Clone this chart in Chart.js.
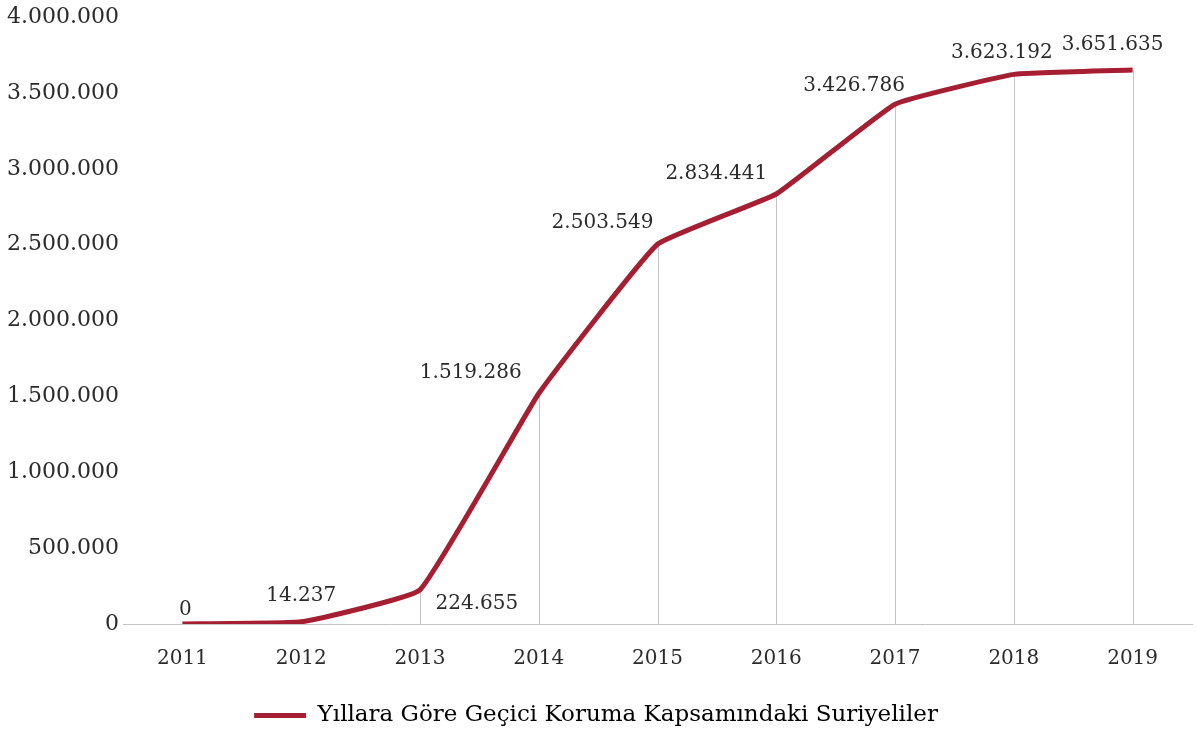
<!DOCTYPE html>
<html>
<head>
<meta charset="utf-8">
<script src="https://cdn.jsdelivr.net/npm/chart.js@4"></script>
<style>
  html, body { margin: 0; padding: 0; background: #fff; }
  #wrap { width: 1197px; height: 730px; }
</style>
</head>
<body>
<div id="wrap"><canvas id="refugeeChart" width="1197" height="730"></canvas></div>
<script>
// ---- data ----
const years = ['2011', '2012', '2013', '2014', '2015', '2016', '2017', '2018', '2019'];
const syrians = [0, 14237, 224655, 1519286, 2503549, 2834441, 3426786, 3623192, 3651635];
const seriesName = 'Yıllara Göre Geçici Koruma Kapsamındaki Suriyeliler';
const yTicks = [0, 500000, 1000000, 1500000, 2000000, 2500000, 3000000, 3500000, 4000000];

// label offsets from each point (px)
const labelOffsets = [[3, -14], [0, -26], [57, 14], [-68, -21], [-55, -21], [-60, -20], [-41, -18], [-12, -22], [-20, -25]];

const lineColor = '#a61e31';
const textColor = '#2b2b2b';
const fontFamily = '"DejaVu Serif", serif';

function fmt(n) {
    return String(n).replace(/\B(?=(\d{3})+(?!\d))/g, '.');
}

// drop lines from each point down to the axis + value labels
const dropLines = {
    id: 'dropLines',
    beforeDatasetsDraw(chart) {
        const ctx = chart.ctx;
        const meta = chart.getDatasetMeta(0);
        const bottom = chart.chartArea.bottom;
        ctx.save();
        ctx.strokeStyle = '#c4c4c4';
        ctx.lineWidth = 1;
        meta.data.forEach(p => {
            const x = Math.round(p.x) + 0.5;
            ctx.beginPath();
            ctx.moveTo(x, bottom);
            ctx.lineTo(x, p.y);
            ctx.stroke();
        });
        ctx.restore();
    },
    afterDatasetsDraw(chart) {
        const ctx = chart.ctx;
        const meta = chart.getDatasetMeta(0);
        ctx.save();
        ctx.font = '20px ' + fontFamily;
        ctx.fillStyle = textColor;
        ctx.textAlign = 'center';
        ctx.textBaseline = 'middle';
        meta.data.forEach((p, i) => {
            const off = labelOffsets[i];
            ctx.fillText(fmt(syrians[i]), p.x + off[0], p.y + off[1]);
        });
        ctx.restore();
    }
};

Chart.defaults.font.family = fontFamily;
Chart.defaults.color = textColor;

new Chart(document.getElementById('refugeeChart'), {
    type: 'line',
    data: {
        labels: years,
        datasets: [{
            label: seriesName,
            data: syrians,
            borderColor: lineColor,
            backgroundColor: lineColor,
            borderWidth: 5,
            pointRadius: 0,
            tension: 0.1,
            fill: false
        }]
    },
    options: {
        responsive: false,
        animation: false,
        layout: { padding: { top: 17, right: 5, bottom: -7, left: 0 } },
        plugins: {
            tooltip: { enabled: false },
            legend: {
                position: 'bottom',
                labels: {
                    font: { size: 23 },
                    boxWidth: 52,
                    boxHeight: 5,
                    padding: 6,
                    generateLabels: (chart) => [{
                        text: seriesName,
                        fillStyle: lineColor,
                        strokeStyle: lineColor,
                        lineWidth: 0,
                        datasetIndex: 0
                    }]
                }
            }
        },
        scales: {
            x: {
                offset: true,
                grid: { display: false, drawTicks: false },
                border: { display: true, color: '#c4c4c4', width: 1 },
                ticks: { font: { size: 20 }, padding: 23 },
                afterFit: (scale) => { scale.height = 74; }
            },
            y: {
                min: 0,
                max: 4000000,
                afterBuildTicks: (scale) => { scale.ticks = yTicks.map(v => ({ value: v })); },
                grid: { display: false, drawTicks: false },
                border: { display: false },
                ticks: {
                    font: { size: 22 },
                    padding: 4,
                    callback: (v) => fmt(v)
                },
                afterFit: (scale) => { scale.width = 123; }
            }
        }
    },
    plugins: [dropLines]
});
</script>
</body>
</html>
